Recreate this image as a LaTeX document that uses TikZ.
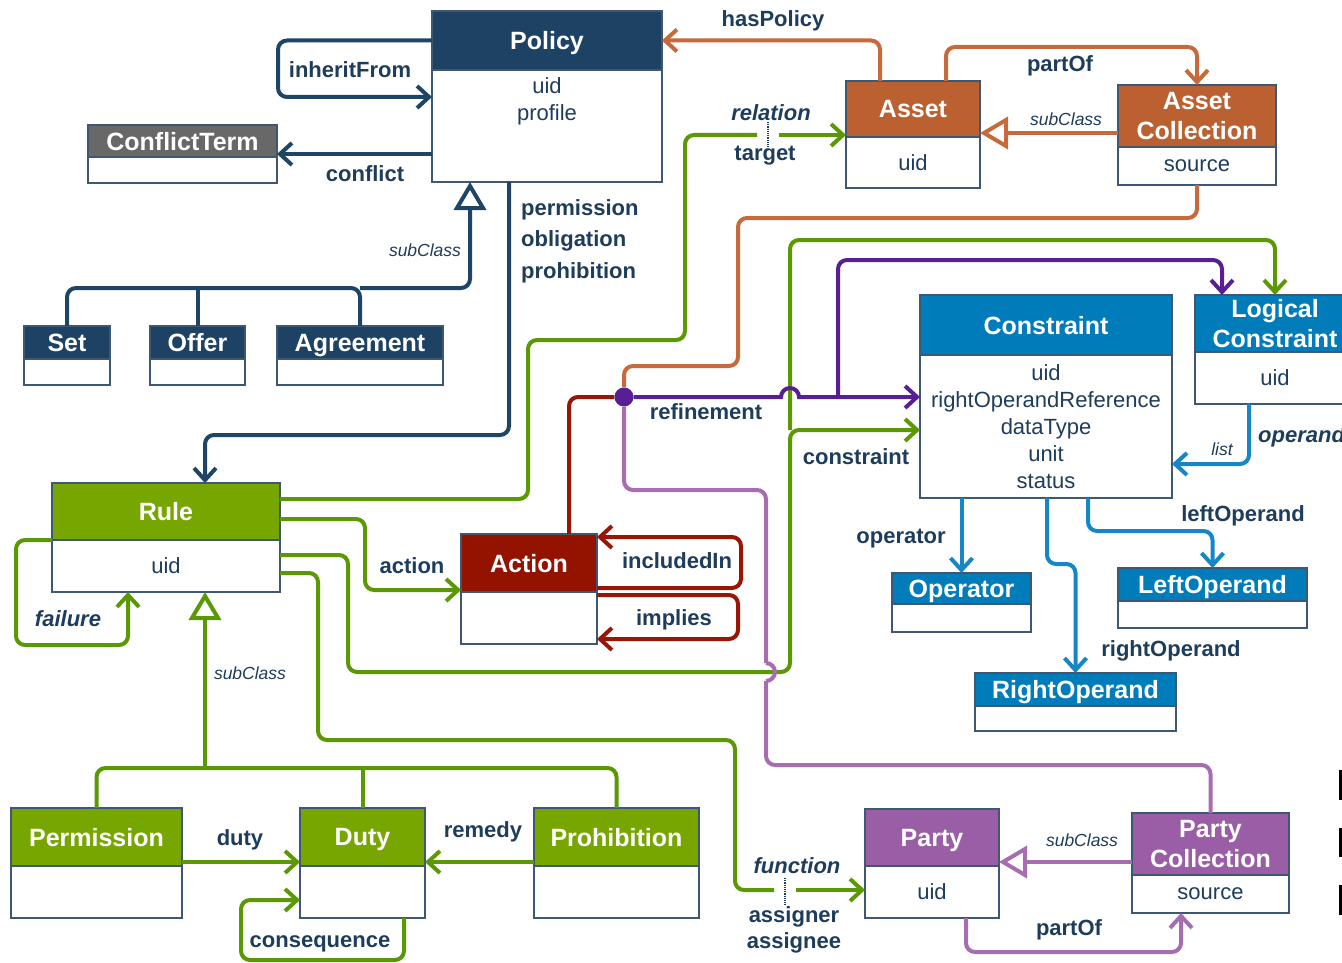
\documentclass[tikz,border=0pt]{standalone}
\usepackage{fontspec}
\setmainfont{Liberation Sans}
\usetikzlibrary{arrows.meta,positioning}

\definecolor{odrlnavy}{RGB}{30,66,100}
\definecolor{navyline}{RGB}{31,69,102}
\definecolor{greyhead}{RGB}{104,104,104}
\definecolor{orangehead}{RGB}{187,96,48}
\definecolor{orangeline}{RGB}{198,106,60}
\definecolor{greenhead}{RGB}{120,166,0}
\definecolor{greenline}{RGB}{90,152,4}
\definecolor{redhead}{RGB}{148,18,0}
\definecolor{redline}{RGB}{152,22,6}
\definecolor{bluehead}{RGB}{0,124,186}
\definecolor{blueline}{RGB}{22,134,198}
\definecolor{purplehead}{RGB}{154,94,167}
\definecolor{purpleline}{RGB}{166,110,177}
\definecolor{refpurple}{RGB}{88,30,150}
\definecolor{labeltext}{RGB}{30,60,92}
\definecolor{boxline}{RGB}{62,88,115}

\begin{document}
\begin{tikzpicture}[x=1pt,y=-1pt,
    head/.style={draw=boxline,line width=1.5pt,outer sep=0pt,inner sep=0pt,text=white,text depth=0pt,align=center,font=\fontsize{25}{30}\selectfont\bfseries,anchor=north west}, % class name band
    attr/.style={text=labeltext,inner sep=0pt,align=center,font=\fontsize{22}{27}\selectfont},
    body/.style={attr,draw=boxline,line width=1.5pt,outer sep=0pt,fill=white}, % attribute part
    lbl/.style={text=labeltext,inner sep=0pt,align=center,font=\fontsize{22}{27}\selectfont\bfseries},
    sub/.style={text=labeltext,inner sep=0pt,font=\fontsize{17.5}{20}\selectfont\itshape},
    conn/.style={line width=4pt,rounded corners=9pt,>={Straight Barb[length=12pt,width=22pt]}},
    isa/.style={<-,>={Triangle[length=28pt,width=32pt,fill=white]}},
    tick/.style={labeltext,densely dotted,line width=1.2pt}
]
\useasboundingbox (0,0) rectangle (1342,963);
\fill[white] (0,0) rectangle (1342,963);

% Policy
\node[head,fill=odrlnavy,minimum width=230pt,minimum height=59pt] (policy) at (432,11) {Policy};
\node[body,minimum width=230pt,minimum height=112pt,below=0pt of policy] (policyb) {};
\node[attr,below=7pt of policy] (policyattr) {uid\\profile};
\node[head,fill=greyhead,minimum width=189pt,minimum height=32pt] (conflict) at (88,125) {ConflictTerm};
\node[body,minimum width=189pt,minimum height=26pt,below=0pt of conflict] (conflictb) {};
\node[head,fill=odrlnavy,minimum width=86pt,minimum height=33pt] (set) at (24,326) {Set};
\node[body,minimum width=86pt,minimum height=26pt,below=0pt of set] (setb) {};
\node[head,fill=odrlnavy,minimum width=95pt,minimum height=33pt] (offer) at (150,326) {Offer};
\node[body,minimum width=95pt,minimum height=26pt,below=0pt of offer] (offerb) {};
\node[head,fill=odrlnavy,minimum width=166pt,minimum height=33pt] (agreement) at (277,326) {Agreement};
\node[body,minimum width=166pt,minimum height=26pt,below=0pt of agreement] (agreementb) {};

% Asset
\node[head,fill=orangehead,minimum width=134pt,minimum height=56pt] (asset) at (846,81) {Asset};
\node[body,minimum width=134pt,minimum height=51pt,below=0pt of asset] (assetb) {uid};
\node[head,fill=orangehead,minimum width=158pt,minimum height=62pt] (assetcoll) at (1118,85) {Asset\\Collection};
\node[body,minimum width=158pt,minimum height=38pt,below=0pt of assetcoll] (assetcollb) {source};

% Constraint
\node[head,fill=bluehead,minimum width=252pt,minimum height=60pt] (constraint) at (920,295) {Constraint};
\node[body,minimum width=252pt,minimum height=143pt,below=0pt of constraint] (constraintb) {uid\\rightOperandReference\\dataType\\unit\\status};
\node[head,fill=bluehead,minimum width=160pt,minimum height=57pt] (logical) at (1195,295) {Logical\\Constraint};
\node[body,minimum width=160pt,minimum height=52pt,below=0pt of logical] (logicalb) {uid};
\node[head,fill=bluehead,minimum width=139pt,minimum height=31pt] (operator) at (892,573) {Operator};
\node[body,minimum width=139pt,minimum height=28pt,below=0pt of operator] (operatorb) {};
\node[head,fill=bluehead,minimum width=189pt,minimum height=33pt] (leftop) at (1118,568) {LeftOperand};
\node[body,minimum width=189pt,minimum height=27pt,below=0pt of leftop] (leftopb) {};
\node[head,fill=bluehead,minimum width=201pt,minimum height=33pt] (rightop) at (975,673) {RightOperand};
\node[body,minimum width=201pt,minimum height=25pt,below=0pt of rightop] (rightopb) {};

% Rule
\node[head,fill=greenhead,minimum width=228pt,minimum height=57pt] (rule) at (52,483) {Rule};
\node[body,minimum width=228pt,minimum height=52pt,below=0pt of rule] (ruleb) {uid};
\node[head,fill=redhead,minimum width=136pt,minimum height=58pt] (action) at (461,534) {Action};
\node[body,minimum width=136pt,minimum height=52pt,below=0pt of action] (actionb) {};
\node[head,fill=greenhead,minimum width=171pt,minimum height=58pt] (permission) at (11,808) {Permission};
\node[body,minimum width=171pt,minimum height=52pt,below=0pt of permission] (permissionb) {};
\node[head,fill=greenhead,minimum width=125pt,minimum height=58pt] (duty) at (300,808) {Duty};
\node[body,minimum width=125pt,minimum height=52pt,below=0pt of duty] (dutyb) {};
\node[head,fill=greenhead,minimum width=165pt,minimum height=58pt] (prohibition) at (534,808) {Prohibition};
\node[body,minimum width=165pt,minimum height=52pt,below=0pt of prohibition] (prohibitionb) {};

% Party
\node[head,fill=purplehead,minimum width=134pt,minimum height=57pt] (party) at (865,809) {Party};
\node[body,minimum width=134pt,minimum height=52pt,below=0pt of party] (partyb) {uid};
\node[head,fill=purplehead,minimum width=157pt,minimum height=62pt] (partycoll) at (1132,813) {Party\\Collection};
\node[body,minimum width=157pt,minimum height=38pt,below=0pt of partycoll] (partycollb) {source};

\node[circle,fill=refpurple,minimum size=19pt,inner sep=0pt] (refdot) at (624,397) {};
\coordinate (tgtgap) at (779,135);
\coordinate (fungap) at (796,890);
\coordinate (consplit) at (790,430);
\coordinate (refsplit) at (838,397);
\coordinate (hoptop) at (766,663);
\coordinate (hopbot) at (766,681);

% Policy connectors
\draw[conn,navyline,->] (policy.west) -| (278,97) -- (policyb.west |- 0,97);
\draw[conn,navyline,->] (policyb.west |- 0,154) -- (conflict.east |- 0,154);
\draw[conn,navyline,isa] (policyb.south -| 470,0) |- (360,288);
\draw[conn,navyline] (set.north) |- (agreement.north |- 0,288) -- (agreement.north);
\draw[conn,navyline] (offer.north) -- (offer.north |- 0,288);
\draw[conn,navyline,->] (policyb.south -| 509,0) |- (205,435) -- (rule.north -| 205,0);

% Asset connectors
\draw[conn,orangeline,->] (asset.north -| 880,0) |- (policy.east);
\draw[conn,orangeline,->] (asset.north -| 946,0) |- (assetcoll.north |- 0,47) -- (assetcoll.north);
\draw[conn,orangeline,isa] (asset.east |- 0,133) -- (assetcoll.west |- 0,133);
\draw[conn,orangeline] (assetcollb.south) |- (738,218) |- (624,366) -- (refdot);

% Rule connectors
\draw[conn,greenline] (rule.east |- 0,499) -| (528,340) -| (685,135) -- (757,135);
\draw[conn,greenline,->] (tgtgap) -- (asset.west |- 0,135);
\draw[tick] (768,122) -- (768,148);
\draw[conn,greenline,->] (rule.east |- 0,519) -| (365,590) -- (action.west |- 0,590);
\draw[conn,greenline,->] (ruleb.east |- 0,555) -| (348,672) -| (consplit) -- (constraintb.west |- consplit);
\draw[conn,greenline,->] (consplit) |- (logical.north |- 0,240) -- (logical.north);
\draw[conn,greenline] (ruleb.east |- 0,573) -| (318,740) -| (735,890) -- (774,890);
\draw[conn,greenline,->] (fungap) -- (partyb.west |- fungap);
\draw[tick] (785,878) -- (785,905);
\draw[conn,greenline,->] (rule.south west) -| (16,645) -| (ruleb.south -| 128,0);
\draw[conn,greenline,isa] (ruleb.south -| 205,0) -- (205,768);
\draw[conn,greenline] (permission.north) |- (prohibition.north |- 0,768) -- (prohibition.north);
\draw[conn,greenline] (duty.north) -- (duty.north |- 0,768);
\draw[conn,greenline,->] (permission.east |- 0,862) -- (duty.west |- 0,862);
\draw[conn,greenline,->] (prohibition.west |- 0,862) -- (duty.east |- 0,862);
\draw[conn,greenline,->] (dutyb.south -| 404,0) |- (241,960) |- (dutyb.west |- 0,900);

% Action connectors
\draw[conn,redline,->] (action.east |- 0,588) -| (741,537) -- (action.east |- 0,537);
\draw[conn,redline,->] (actionb.east |- 0,595) -| (738,639) -- (actionb.east |- 0,639);
\draw[conn,redline] (action.north -| 569,0) |- (refdot);

% Refinement
\draw[conn,purpleline] (refdot) |- (766,490) -- (hoptop);
\draw[conn,purpleline,sharp corners] (hoptop) arc[start angle=90,end angle=-90,radius=9pt] -- (hopbot);
\draw[conn,purpleline] (hopbot) |- (partycoll.north |- 0,765) -- (partycoll.north);
\draw[conn,refpurple,sharp corners,->] (refdot) -- (781,397) arc[start angle=180,end angle=0,radius=9pt] -- (constraintb.west |- refdot);
\draw[conn,refpurple,->] (refsplit) |- (1222,260) -- (logical.north -| 1222,0);

% Constraint connectors
\draw[conn,blueline,->] (operator.north |- constraintb.south) -- (operator.north);
\draw[conn,blueline,->] (constraintb.south -| 1088,0) |- (leftop.north |- 0,531) -- (leftop.north);
\draw[conn,blueline,->] (constraintb.south -| 1047,0) |- (rightop.north |- 0,564) -- (rightop.north);
\draw[conn,blueline,->] (logicalb.south -| 1249,0) |- (constraintb.east |- 0,464);

% Party connectors
\draw[conn,purpleline,->] (partyb.south -| 966,0) |- (1181,952) -- (partycollb.south -| 1181,0);
\draw[conn,purpleline,isa] (party.east |- 0,862) -- (partycoll.west |- 0,862);

% Labels
\node[lbl] (linherit) at (350,70) {inheritFrom};
\node[lbl] (lconflict) at (365,174) {conflict};
\node[sub] (lsubpol) at (425,250) {subClass};
\node[lbl,align=left,anchor=west,font=\fontsize{22}{31.5}\selectfont\bfseries] (lrules) at (521,241) {permission\\obligation\\prohibition};
\node[lbl] (lhaspolicy) at (773,21) {hasPolicy};
\node[lbl] (lpartof) at (1060,66) {partOf};
\node[sub] (lsubasset) at (1066,119) {subClass};
\node[lbl,font=\fontsize{22}{27}\selectfont\bfseries\itshape] (lrelation) at (771,113) {relation};
\node[lbl] (ltarget) at (765,156) {target};
\node[lbl] (lrefine) at (706,412) {refinement};
\node[lbl] (lconstraint) at (856,457) {constraint};
\node[lbl] (loperator) at (901,539) {operator};
\node[lbl] (lleft) at (1243,516) {leftOperand};
\node[lbl] (lright) at (1171,651) {rightOperand};
\node[sub] (llist) at (1222,449) {list};
\node[lbl,anchor=west,font=\fontsize{22}{27}\selectfont\bfseries\itshape] (loperand) at (1258,437) {operand};
\node[lbl] (laction) at (412,566) {action};
\node[lbl] (lincluded) at (677,561) {includedIn};
\node[lbl] (limplies) at (674,620) {implies};
\node[lbl,font=\fontsize{22}{27}\selectfont\bfseries\itshape] (lfailure) at (68,619) {failure};
\node[sub] (lsubrule) at (250,673) {subClass};
\node[lbl] (lduty) at (240,840) {duty};
\node[lbl] (lremedy) at (483,832) {remedy};
\node[lbl] (lconseq) at (320,944) {consequence};
\node[lbl,font=\fontsize{22}{27}\selectfont\bfseries\itshape] (lfunction) at (797,866) {function};
\node[lbl,font=\fontsize{22}{26}\selectfont\bfseries] (lassign) at (794,930) {assigner\\assignee};
\node[sub] (lsubparty) at (1082,840) {subClass};
\node[lbl] (lpartofparty) at (1069,930) {partOf};

% clipped marks at the right edge
\fill[black] (1339,770) rectangle (1342,800);
\fill[black] (1339,828) rectangle (1342,857);
\fill[black] (1339,885) rectangle (1342,915);
\end{tikzpicture}
\end{document}
